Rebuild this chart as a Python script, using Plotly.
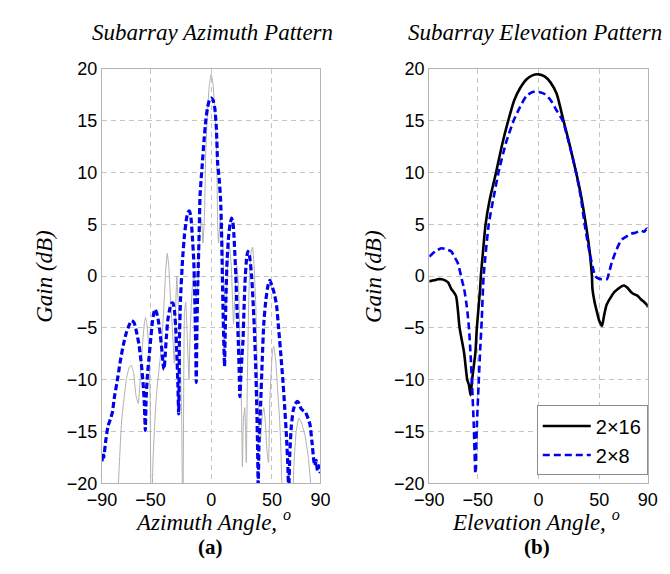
import plotly.graph_objects as go

# ---------------- Azimuth pattern (panel a) ----------------
az_2x8_angle = [-90, -89.2, -88.5, -87, -85, -83, -81.5, -79.5, -77.5, -75, -72.5, -70, -67.5, -65.5, -63.5,
                -61.5, -59.5, -57.5, -56, -55, -54.3,
                -53.5, -52.5, -51.5, -50, -48.5, -47.2, -46.2, -45, -43.5, -42, -40.5, -39.5, -38.8,
                -38, -37, -35.7, -34, -32.5, -31.5, -30.3, -29.2, -28.3, -27.5, -26.8,
                -26.5, -26.2, -25.2, -23.6, -22, -20.3, -19, -17.9, -16.8, -15.5, -14.4, -13.7, -13.1, -12.7, -12.3,
                -11.8, -11.2, -10.5, -9.8, -9.2, -8.2, -7.3, -6, -4.5, -3, -1.5, 0, 1.5, 3, 4.3, 5.3, 6.5, 7.7,
                8.5, 9.2, 9.8, 10.4, 11,
                11.6, 12.3, 13.1, 14.3, 15.5, 16.8, 17.8, 18.8, 20.3, 21.2, 22.3, 23, 23.6,
                24.5, 25.3, 26.2, 27, 28.1, 29.2, 30.2, 31.5, 33.3, 34.5, 35.7, 36.8, 37.6, 38.2, 38.7,
                39.4, 40.7, 42, 43.3, 45, 46.8, 48.3, 50, 52, 53.8, 55.5, 57.3, 59, 60.4, 62, 63.2, 63.8,
                64.8, 66, 67.5, 69, 70.9, 72.5, 74, 76, 77.4, 79, 81.3, 83, 84.5, 85.5, 86.5, 87.5, 88.5, 89.2, 90]
az_2x8_gain = [-17.9, -17.1, -17.5, -16.0, -14.5, -13.8, -13.2, -11.5, -10.2, -8.3, -6.7, -5.5, -4.7, -4.3, -4.5,
               -5.4, -6.6, -8.5, -10.5, -12.5, -14.9,
               -11.5, -9.5, -8.2, -6.3, -4.5, -3.5, -3.2, -3.5, -4.3, -5.6, -7.3, -8.6, -9.0,
               -7.8, -6.0, -4.2, -3.1, -2.6, -2.6, -3.3, -5.0, -7.5, -10.3, -13.3,
               -11.0, -6.2, -2.0, 1.6, 4.0, 5.6, 6.2, 6.3, 5.8, 3.8, 1.6, -1.2, -4.6, -7.5, -10.25,
               -5.5, -1.5, 1.6, 4.8, 7.8, 9.5, 10.9, 13.0, 15.0, 16.3, 17.0, 17.2, 17.0, 16.2, 14.2, 10.9, 9.5, 7.5,
               4.5, 0.0, -3.5, -6.5, -8.7,
               -5.0, -1.5, 1.6, 3.8, 5.0, 5.6, 5.3, 3.8, 0.0, -3.0, -6.2, -9.0, -11.65,
               -9.5, -7.8, -6.2, -3.2, 0.0, 1.8, 2.4, 2.0, 0.0, -2.5, -5.5, -9.3, -13.0, -16.5, -20.5,
               -16.0, -12.4, -8.2, -4.6, -2.3, -0.9, -0.4, -0.9, -1.7, -2.8, -5.0, -7.5, -10.0, -12.4, -15.5, -18.5, -21.0,
               -17.0, -14.5, -13.0, -12.4, -12.1, -12.3, -12.8, -13.0, -13.1, -13.5, -14.3, -16.0, -17.8, -18.3, -17.8, -18.8, -18.3, -18.8, -19.0]

az_2x16_angle = [-80, -76.4, -73.8, -69.8, -67.5, -66, -64, -62, -60.1, -58.5, -56.7, -55, -54.1, -53, -51.4, -50.3,
                 -49.4, -48, -46, -44.9, -43, -41, -39, -37.5, -36.2, -35, -33.1, -31.5, -30.4, -29.5, -28.3, -27,
                 -25.2, -24.3, -23.4, -22.5, -22, -21, -20, -18.3, -17.5, -16.5, -15.5, -14, -12.5, -11, -9.5, -8,
                 -6.8, -5.5, -4.5, -3, -1.5, 0, 1.5, 3, 4.5, 5.3, 6, 7.5, 9, 10.5, 12, 13.5, 15, 16.5, 17.5, 18.4,
                 19.5, 21, 22.5, 24, 25, 25.7, 26.5, 27.6, 28.3, 28.9, 29.8, 30.8, 31.5, 32.8, 34.1, 35.3, 36.8, 38,
                 39.5, 40.5, 42, 43.3, 44.5, 46, 47.2, 48.3, 49.4, 50.5, 51.5, 53, 55, 56.4, 57.5, 58.5, 60,
                 66, 68.2, 70, 72.2, 74.5, 77.4, 80, 82.2, 84]
az_2x16_gain = [-30, -20, -14, -9.9, -8.8, -8.6, -9.3, -11.5, -12.3, -10.0, -6.8, -4.5, -4.0, -4.6, -6.8, -12.0,
                -25, -18, -13, -11.2, -9.0, -6.8, -3.0, 0.5, 2.2, 1.0, -3.1, -6.0, -8.4, -4.0, 0.0, -3.0,
                -9.3, -14.0, -25, -8.0, -3.5, -2.5, -5.0, -10.0, -6.0, -3.0, -1.0, 0.5, -2.0, -1.0, 4.5, 5.5,
                3.2, 6.0, 11.9, 16.0, 18.5, 19.5, 18.5, 16.0, 11.9, 5.0, 3.2, 5.5, 4.5, -1.0, -3.0, 1.0, 3.0, 1.0, -2.0, -4.6,
                -2.0, 1.0, -1.0, -8.0, -13.0, -18.4, -14.0, -12.7, -15.0, -18.0, -10.0, -3.0, 0.0, 2.3, 2.8, 1.0, -3.1, -9.3,
                -14.0, -16.0, -13.5, -12.7, -14.0, -17.0, -18.0, -12.0, -9.3, -7.2, -6.8, -8.0, -11.5, -14.0, -17.0, -22.0, -30,
                -25, -18.0, -15.0, -13.7, -14.2, -15.5, -17.5, -20.5, -25]

# ---------------- Elevation pattern (panel b) ----------------
el_2x16_angle = [-90, -86, -83, -80, -77, -74.5, -72, -68, -65, -61.3, -58.7, -57.3, -56, -54.5, -52, -50.8,
                 -48.1, -47.5, -46, -43.6, -40, -35, -30, -25, -20, -15, -10, -5, 0, 5, 10, 15, 20.6, 25, 31,
                 35, 39, 42, 44, 44.4, 46, 48, 50, 52.3, 54, 56, 58.7, 62, 65.8, 68, 70.6, 73, 76, 78, 81.7,
                 84, 87, 89.6, 90]
el_2x16_gain = [-0.5, -0.4, -0.3, -0.3, -0.4, -0.6, -1.2, -1.9, -5.0, -7.4, -10.0, -10.5, -11.5, -9.8, -7.4, -5.0,
                -1.2, 0.0, 2.0, 5.0, 7.5, 10.0, 12.7, 15.0, 17.0, 18.2, 19.0, 19.4, 19.5, 19.3, 18.7, 17.6, 15.0, 13.0, 10.0,
                7.8, 5.0, 2.5, 0.0, -1.2, -2.4, -3.4, -4.3, -4.8, -3.8, -2.8, -2.2, -1.6, -1.2, -1.0, -0.9, -1.1, -1.5, -1.7, -1.9,
                -2.2, -2.5, -2.8, -3.0]

el_2x8_angle = [-90, -89, -85, -80, -76, -72, -69, -66.6, -62.6, -61.3, -59, -57.3, -56, -54.7, -53.3, -52,
                -50.8, -49.4, -48, -46.8, -45.2, -41, -37, -33, -27, -20.6, -15, -10, -5, 0, 5, 10, 15, 20,
                25, 31, 35, 38, 42, 46.8, 49, 52.3, 56.3, 58, 60.3, 64, 68.2, 72, 76.1, 80, 84, 87, 89.4, 90]
el_2x8_gain = [1.9, 2.0, 2.4, 2.7, 2.6, 2.4, 1.8, 1.3, -0.6, -1.2, -3.0, -5.0, -7.5, -10.6, -14.5, -19.1,
               -14.5, -10.6, -7.0, -4.3, 0.0, 5.0, 7.6, 10.0, 12.8, 15.0, 16.4, 17.4, 17.8, 17.8, 17.6, 17.0, 16.0, 15.0,
               12.9, 10.0, 7.5, 5.0, 2.3, 0.0, -0.2, -0.3, -0.3, 0.3, 1.3, 2.5, 3.5, 3.8, 4.1, 4.2, 4.4, 4.3, 4.6, 4.3]

x_ticks = [-90, -50, 0, 50, 90]
y_ticks = [20, 15, 10, 5, 0, -5, -10, -15, -20]
legend_labels = ["2\u00d716", "2\u00d78"]

fig = go.Figure()

fig.add_trace(go.Scatter(x=az_2x16_angle, y=az_2x16_gain, mode="lines",
                         line=dict(color="#b0b0b0", width=1, shape="spline", smoothing=0.4), showlegend=False,
                         xaxis="x", yaxis="y"))
fig.add_trace(go.Scatter(x=az_2x8_angle, y=az_2x8_gain, mode="lines",
                         line=dict(color="#0000ee", width=3.2, dash="6px,3px", shape="spline", smoothing=0.5),
                         showlegend=False, xaxis="x", yaxis="y"))
fig.add_trace(go.Scatter(x=el_2x16_angle, y=el_2x16_gain, mode="lines", name=legend_labels[0],
                         line=dict(color="black", width=2.6, shape="spline", smoothing=0.6),
                         xaxis="x2", yaxis="y2"))
fig.add_trace(go.Scatter(x=el_2x8_angle, y=el_2x8_gain, mode="lines", name=legend_labels[1],
                         line=dict(color="#0000ee", width=2.6, dash="7px,4px", shape="spline", smoothing=0.6),
                         xaxis="x2", yaxis="y2"))

W, H = 670, 574
y_dom = [(H - 482) / H, (H - 53) / H]
tick_font = dict(family="Arial, Liberation Sans", size=18, color="black")
ax_common = dict(showline=True, mirror=True, linecolor="#b4b4b4", linewidth=1,
                 showgrid=True, gridcolor="#c4c4c4", griddash="5px,4px", gridwidth=1,
                 zeroline=False, tickfont=tick_font, ticks="")

fig.update_layout(
    width=W, height=H,
    margin=dict(l=0, r=0, t=0, b=0),
    paper_bgcolor="white", plot_bgcolor="white",
    xaxis=dict(domain=[82 / W, 309 / W], range=[-90, 90], tickvals=x_ticks, anchor="y", **ax_common),
    yaxis=dict(domain=y_dom, range=[-20, 20], tickvals=y_ticks, anchor="x", **ax_common),
    xaxis2=dict(domain=[422 / W, 649 / W], range=[-90, 90], tickvals=x_ticks, anchor="y2", **ax_common),
    yaxis2=dict(domain=y_dom, range=[-20, 20], tickvals=y_ticks, anchor="x2", **ax_common),
    legend=dict(x=649 / W, y=(H - 474) / H, xanchor="right", yanchor="bottom",
                bordercolor="#8c8c8c", borderwidth=1, bgcolor="white",
                font=dict(family="Arial, Liberation Sans", size=20, color="black"),
                tracegroupgap=2, itemwidth=48),
    showlegend=True,
)

serif_it = dict(family="Liberation Serif, Times New Roman, serif", size=23, color="black")
serif_ax = dict(family="Liberation Serif, Times New Roman, serif", size=23, color="black")
serif_bold = dict(family="Liberation Serif, Times New Roman, serif", size=21, color="black")

ann = [
    dict(text="<i>Subarray Azimuth Pattern</i>", x=197 / W, y=1 - 15 / H, font=serif_it),
    dict(text="<i>Subarray Elevation Pattern</i>", x=532 / W, y=1 - 15 / H, font=serif_it),
    dict(text="<i>Azimuth Angle, <sup>o</sup></i>", x=197 / W, y=1 - 521 / H, font=serif_ax),
    dict(text="<i>Elevation Angle, <sup>o</sup></i>", x=533 / W, y=1 - 521 / H, font=serif_ax),
    dict(text="<b>(a)</b>", x=195 / W, y=1 - 548 / H, font=serif_bold),
    dict(text="<b>(b)</b>", x=534 / W, y=1 - 548 / H, font=serif_bold),
    dict(text="<i>Gain (dB)</i>", x=22 / W, y=1 - 268 / H, font=serif_ax, textangle=-90),
    dict(text="<i>Gain (dB)</i>", x=364 / W, y=1 - 268 / H, font=serif_ax, textangle=-90),
]
for a in ann:
    a.update(xref="paper", yref="paper", showarrow=False, xanchor="center", yanchor="middle")
fig.update_layout(annotations=ann)

fig.write_html("out.html")
